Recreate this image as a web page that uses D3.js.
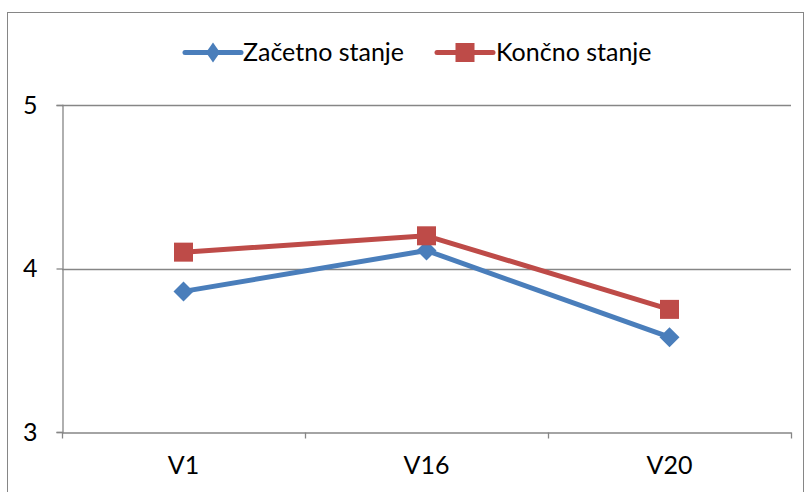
<!DOCTYPE html>
<html><head><meta charset="utf-8">
<script src="https://cdn.jsdelivr.net/npm/d3@7/dist/d3.min.js"></script>
<style>body{margin:0;background:#fff}svg{display:block}</style>
</head><body>
<svg id="c" width="806" height="492"></svg>
<script>
const categories = ["V1", "V16", "V20"];
const seriesNames = ["Začetno stanje", "Končno stanje"];
const zacetno = [3.86, 4.11, 3.58];
const koncno = [4.10, 4.20, 3.75];
const yTicks = [3, 4, 5];
const colors = ["#4a7ebb", "#be4b48"];

(function () {
const svg = d3.select("#c");
const font = "Lato, 'Open Sans', sans-serif";
const fs = 25;
const pLeft = 62, pRight = 791, pTop = 105, pBottom = 432;
const x = d3.scaleBand().domain(categories).range([pLeft, pRight]);
const y = d3.scaleLinear().domain([3, 5]).range([pBottom, pTop]);
const grey = "#868686";

// outer border
svg.append("rect").attr("x", 7.5).attr("y", 12.5).attr("width", 796).attr("height", 490)
  .attr("fill", "none").attr("stroke", grey).attr("stroke-width", 1);

// gridlines
svg.append("g").selectAll("line").data(yTicks.filter(d => d !== 3)).join("line")
  .attr("x1", pLeft).attr("x2", pRight)
  .attr("y1", d => Math.round(y(d)) + 0.5).attr("y2", d => Math.round(y(d)) + 0.5)
  .attr("stroke", grey).attr("stroke-width", 1.3);

// y axis
const yAxis = svg.append("g").attr("transform", `translate(${pLeft + 0.5},0)`)
  .call(d3.axisLeft(y).tickValues(yTicks).tickSize(6).tickPadding(19).tickFormat(d3.format("d")));
yAxis.select(".domain").attr("stroke", grey).attr("stroke-width", 1.3);
yAxis.selectAll(".tick line").attr("stroke", grey).attr("stroke-width", 1.3);
yAxis.selectAll("text").attr("font-family", font).attr("font-size", fs).attr("fill", "#000");

// x axis
const xAxis = svg.append("g").attr("transform", `translate(0,${Math.round(y(3)) + 0.5})`)
  .call(d3.axisBottom(x).tickSize(0).tickPadding(24));
xAxis.select(".domain").attr("stroke", grey).attr("stroke-width", 1.3);
xAxis.selectAll("text").attr("font-family", font).attr("font-size", fs).attr("fill", "#000");
const bounds = categories.map(c => x(c)).concat([x.range()[1]]);
xAxis.selectAll(".btick").data(bounds).join("line").attr("class", "btick")
  .attr("x1", d => Math.round(d) + 0.5).attr("x2", d => Math.round(d) + 0.5)
  .attr("y1", 0).attr("y2", 6).attr("stroke", grey).attr("stroke-width", 1.3);

const cx = c => x(c) + x.bandwidth() / 2;
const data = [zacetno, koncno];
const line = d3.line().x((d, i) => cx(categories[i])).y(d => y(d));

function marker(g, k, px, py, hw) {
  if (k === 0) {
    g.append("path").attr("d", `M${px},${py - 10}L${px + hw},${py}L${px},${py + 10}L${px - hw},${py}Z`)
      .attr("fill", colors[0]);
  } else {
    g.append("rect").attr("x", px - 9.5).attr("y", py - 9.5).attr("width", 19).attr("height", 19)
      .attr("fill", colors[1]);
  }
}

data.forEach((vals, k) => {
  const g = svg.append("g");
  g.append("path").attr("d", line(vals)).attr("fill", "none")
    .attr("stroke", colors[k]).attr("stroke-width", 5).attr("stroke-linejoin", "round");
  vals.forEach((v, i) => marker(g, k, cx(categories[i]), y(v), 10));
});

// legend
const legendItems = [{lx: 185, tx: 243}, {lx: 437, tx: 496}];
legendItems.forEach((it, k) => {
  const g = svg.append("g");
  g.append("line").attr("x1", it.lx).attr("x2", it.lx + 56).attr("y1", 52.5).attr("y2", 52.5)
    .attr("stroke", colors[k]).attr("stroke-width", 5).attr("stroke-linecap", "round");
  marker(g, k, it.lx + 28, 52.5, 7);
  g.append("text").attr("x", it.tx).attr("y", 61).text(seriesNames[k])
    .attr("font-family", font).attr("font-size", fs).attr("fill", "#000");
});
})();
</script>
</body></html>
